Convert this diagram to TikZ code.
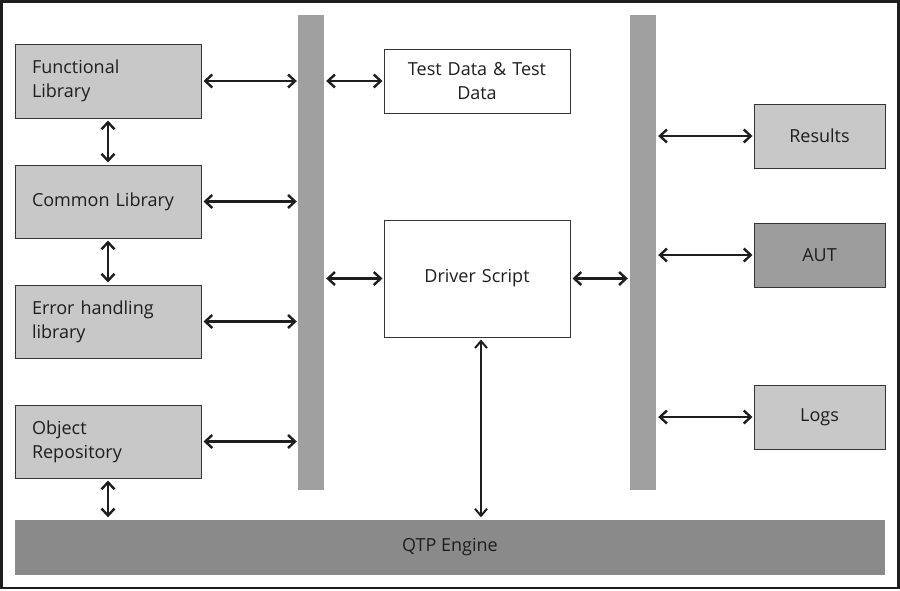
\documentclass[tikz,border=0pt]{standalone}
\usepackage{fontspec}
\setmainfont{Open Sans}
\usetikzlibrary{arrows.meta}
\definecolor{boxgrey}{HTML}{C8C8C8}
\definecolor{bargrey}{HTML}{A0A0A0}
\definecolor{autgrey}{HTML}{9D9D9D}
\definecolor{qtpgrey}{HTML}{8A8A8A}
\definecolor{ink}{HTML}{1E1E1E}
\begin{document}
\begin{tikzpicture}[x=1pt,y=-1pt,
  font=\fontsize{18}{24}\selectfont,
  lbox/.style={draw=ink!90, line width=1pt, fill=boxgrey, minimum width=186pt, minimum height=73pt, text width=152pt, align=left, inner sep=0pt, text=ink},
  wbox/.style={draw=ink!90, line width=1pt, fill=white, minimum width=186pt, inner sep=0pt, text width=170pt, align=center, text=ink},
  rbox/.style={draw=ink!90, line width=1pt, fill=boxgrey, minimum width=131pt, minimum height=64pt, inner sep=0pt, text=ink},
  barnode/.style={fill=bargrey, draw=none, minimum width=26pt, minimum height=475pt, inner sep=0pt},
  link/.style={{Straight Barb[length=7pt,width=13pt,line width=2.4pt]}-{Straight Barb[length=7pt,width=13pt,line width=2.4pt]}, line width=2.2pt, draw=ink},
  thinlink/.style={{Straight Barb[length=7pt,width=12pt,line width=2pt]}-{Straight Barb[length=7pt,width=12pt,line width=2pt]}, line width=1.5pt, draw=ink}
]
\useasboundingbox (0,0) rectangle (900,590);
\fill[white] (0,0) rectangle (900,590);
\draw[line width=2.5pt, draw=ink] (1.25,1.25) rectangle (898.5,588);

\node[barnode] (bar1) at (311,252.5) {};
\node[barnode] (bar2) at (643,252.5) {};

\node[lbox, minimum height=74pt] (func) at (108,81) {Functional\\Library};
\node[lbox] (common) at (108,201.5) {Common Library};
\node[lbox] (err) at (108,321.5) {Error handling\\library};
\node[lbox] (obj) at (108,441.5) {Object\\Repository};

\node[wbox, minimum height=64pt] (td) at (477,81) {Test Data \& Test\\Data};
\node[wbox, minimum height=117pt] (drv) at (477,278.5) {Driver Script};

\node[rbox] (res) at (819.5,136) {Results};
\node[rbox, fill=autgrey] (aut) at (819.5,255) {AUT};
\node[rbox] (logs) at (819.5,417) {Logs};

\node[fill=qtpgrey, minimum width=870pt, minimum height=55pt, inner sep=0pt, text=ink] (qtp) at (450,547) {QTP Engine};

% left boxes to bar 1
\draw[link] ([xshift=2pt]func.east) -- ([xshift=-1pt]func.east -| bar1.west);
\draw[link] ([xshift=2pt]common.east) -- ([xshift=-1pt]common.east -| bar1.west);
\draw[link] ([xshift=2pt]err.east) -- ([xshift=-1pt]err.east -| bar1.west);
\draw[link] ([xshift=2pt]obj.east) -- ([xshift=-1pt]obj.east -| bar1.west);

% vertical links on the left
\draw[link] ([yshift=-2pt]func.south) -- ([yshift=2pt]common.north);
\draw[link] ([yshift=-2pt]common.south) -- ([yshift=2pt]err.north);
\draw[link] ([yshift=-2pt]obj.south) -- ([yshift=2pt]obj.south |- qtp.north);

% bar 1 to middle boxes
\draw[link] ([xshift=2pt]bar1.east |- td.west) -- ([xshift=-1pt]td.west);
\draw[link] ([xshift=2pt]bar1.east |- drv.west) -- ([xshift=-1pt]drv.west);
\draw[link] ([xshift=2pt]drv.east) -- ([xshift=-2pt]drv.east -| bar2.west);

% bar 2 to right boxes
\draw[link] ([xshift=2pt]bar2.east |- res.west) -- ([xshift=-1pt]res.west);
\draw[link] ([xshift=2pt]bar2.east |- aut.west) -- ([xshift=-1pt]aut.west);
\draw[link] ([xshift=2pt]bar2.east |- logs.west) -- ([xshift=-1pt]logs.west);

% driver to QTP
\coordinate (dq) at ([xshift=4pt]drv.south);
\draw[thinlink] ([yshift=-2pt]dq) -- ([yshift=2pt]dq |- qtp.north);
\end{tikzpicture}
\end{document}
